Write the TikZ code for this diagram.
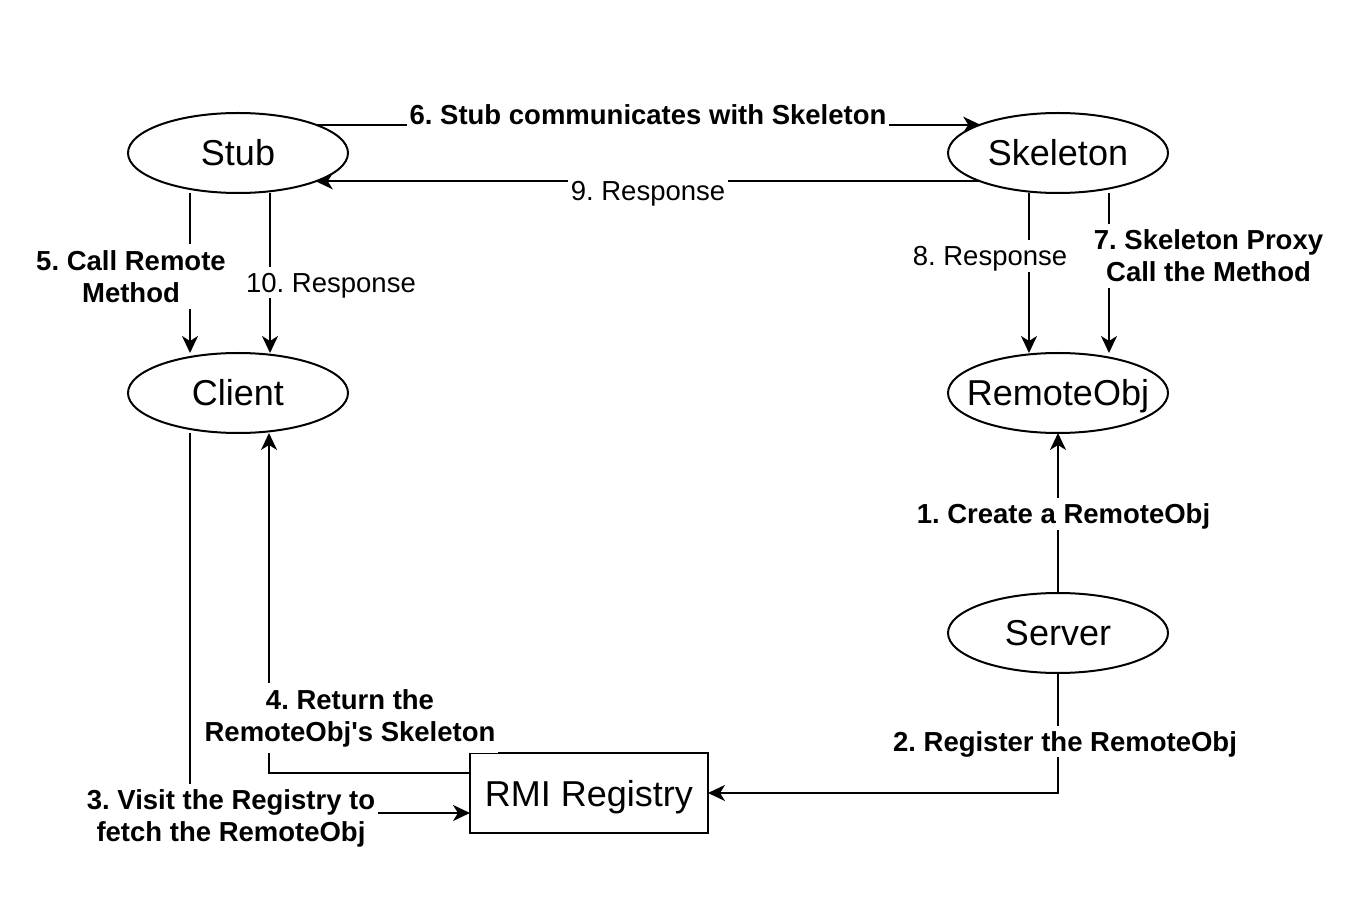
\documentclass[tikz,border=0pt]{standalone}
\usepackage{fontspec}
\newfontfamily\lsans{Liberation Sans}
\usetikzlibrary{shapes.geometric,arrows.meta}
\frenchspacing
\begin{document}
\begin{tikzpicture}[x=1pt,y=1pt,
  every node/.style={outer sep=0pt},
  ell/.style={ellipse, draw, line width=2pt, minimum width=220pt, minimum height=80pt, inner sep=0pt, font=\lsans\fontsize{36}{43}\selectfont, text height=26pt, text depth=0pt},
  regbox/.style={rectangle, draw, line width=2pt, minimum width=238pt, minimum height=80pt, inner sep=0pt, font=\lsans\fontsize{36}{43}\selectfont, text height=26pt, text depth=0pt},
  conn/.style={line width=2pt, -{Stealth[length=17pt,width=16pt,inset=5pt]}},
  lblb/.style={fill=white, inner xsep=3pt, inner ysep=6pt, font=\lsans\fontsize{27.5}{32}\selectfont\bfseries\frenchspacing, text height=19.7pt, text depth=0pt},
  lbln/.style={fill=white, inner xsep=3pt, inner ysep=6pt, font=\lsans\fontsize{27.5}{32}\selectfont\frenchspacing, text height=19.7pt, text depth=0pt},
  lblm/.style={fill=white, inner xsep=3pt, inner ysep=6pt, font=\lsans\fontsize{27.5}{32}\selectfont\bfseries\frenchspacing, align=center}
]
\path[use as bounding box] (0,0) rectangle (1358,906);

\node[ell] (stub) at (238,753) {Stub};
\node[ell] (skel) at (1058,753) {Skeleton};
\node[ell] (client) at (238,513) {Client};
\node[ell] (robj) at (1058,513) {\makebox[0pt]{RemoteObj}};
\node[ell] (server) at (1058,273) {Server};
\node[regbox] (rmi) at (589,113) {RMI Registry};

% 1
\draw[conn] (server.north) -- node[lblb, xshift=5.5pt, yshift=-1pt]{1. Create a RemoteObj} (robj.south);
% 2
\draw[conn] (server.south) |- node[lblb, pos=0.285, xshift=7pt]{2. Register the RemoteObj} (rmi.east);
% 3
\draw[conn] ([xshift=-48pt]client.south) |- node[lblm, pos=0.5, xshift=41pt, yshift=-5.4pt]{3. Visit the Registry to\\fetch the RemoteObj} ([yshift=-20pt]rmi.west);
% 4
\draw[conn] ([yshift=20pt]rmi.west) -| node[lblm, pos=0.581, xshift=81pt]{4. Return the\\RemoteObj's Skeleton} ([xshift=31pt]client.south);
% 5
\draw[conn] ([xshift=-48pt]stub.south) -- node[lblm, xshift=-59pt, yshift=-3.5pt]{5. Call Remote\\Method} ([xshift=-48pt]client.north);
% 6
\draw[conn] (stub.20) -- node[lblb, yshift=10pt]{6. Stub communicates with Skeleton} (skel.160);
% 7
\draw[conn] ([xshift=51pt]skel.south) -- node[lblm, xshift=99.5pt, yshift=17pt]{7. Skeleton Proxy\\Call the Method} ([xshift=51pt]robj.north);
% 8
\draw[conn] ([xshift=-29pt]skel.south) -- node[lbln, xshift=-39pt, yshift=17pt]{8. Response} ([xshift=-29pt]robj.north);
% 9
\draw[conn] (skel.200) -- node[lbln, yshift=-9pt]{9. Response} (stub.-20);
% 10
\draw[conn] ([xshift=32pt]stub.south) -- node[lbln, xshift=61pt, yshift=-9.5pt]{10. Response} ([xshift=32pt]client.north);
\end{tikzpicture}
\end{document}
